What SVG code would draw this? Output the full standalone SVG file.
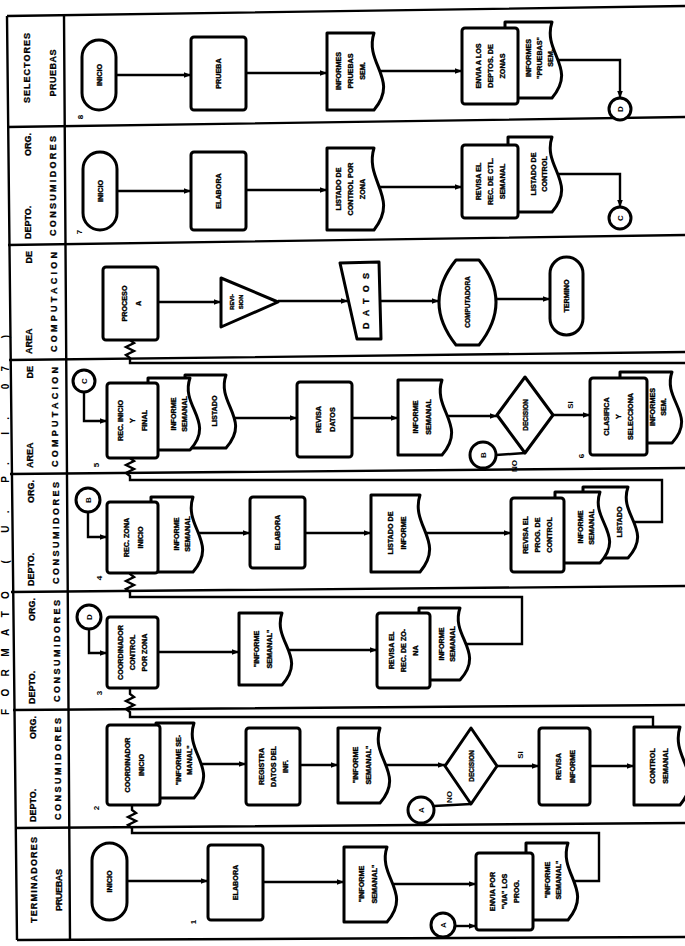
<svg xmlns="http://www.w3.org/2000/svg" width="685" height="946" viewBox="0 0 685 946">
<style>
.b{fill:#fff;stroke:#000;stroke-width:3;stroke-linejoin:round}
.l{fill:none;stroke:#000;stroke-width:2.4}
.g{fill:none;stroke:#000;stroke-width:2.4}
.t{font-family:"Liberation Sans",Arial,sans-serif;font-weight:bold;font-size:7.2px;text-anchor:middle;fill:#000;stroke:#000;stroke-width:0.35}
.h{font-family:"Liberation Sans",Arial,sans-serif;font-weight:bold;font-size:9px;fill:#000;stroke:#000;stroke-width:0.3}
.s{font-family:"Liberation Sans",Arial,sans-serif;font-weight:bold;font-size:8px;text-anchor:middle;fill:#000}
.ti{font-family:"Liberation Sans",Arial,sans-serif;font-weight:bold;font-size:10px;text-anchor:middle;fill:#000}
</style>
<defs>
<marker id="a" viewBox="0 0 10 10" refX="10" refY="5" markerWidth="7" markerHeight="7" orient="auto" markerUnits="userSpaceOnUse"><path d="M0,1 L10,5 L0,9 Z" fill="#000"/></marker>
</defs>
<rect width="685" height="946" fill="#fff"/>

<!-- frame -->
<g id="frame">
<path class="g" d="M7,16 L17,940 M64,15 L70,940"/>
<path class="g" d="M7,16 L685,6 M7,127 L685,117 M8,245 L685,235 M9,360 L685,352 M10,474 L685,468 M11,592 L685,586 M13,710 L685,705 M15,828 L685,823 M17,940 L685,937"/>
<text class="ti" transform="translate(9,525) rotate(-90)" textLength="380" lengthAdjust="spacing">FORMATO ( U. P. I. 07 )</text>
</g>

<!-- lane headers -->
<g id="hdr-8">
<text class="h" transform="translate(29.6,68) rotate(-90)" text-anchor="middle" textLength="70" lengthAdjust="spacing">SELECTORES</text>
<text class="h" transform="translate(55.5,73) rotate(-90)" text-anchor="middle" textLength="47" lengthAdjust="spacing">PRUEBAS</text>
</g>
<g id="hdr-7">
<text class="h" transform="translate(30.6,239) rotate(-90)">DEPTO.</text>
<text class="h" transform="translate(30.6,133) rotate(-90)" text-anchor="end">ORG.</text>
<text class="h" transform="translate(56.4,186) rotate(-90)" text-anchor="middle" textLength="100" lengthAdjust="spacing">CONSUMIDORES</text>
</g>
<g id="hdr-6">
<text class="h" transform="translate(31.6,354) rotate(-90)">AREA</text>
<text class="h" transform="translate(31.6,251) rotate(-90)" text-anchor="end">DE</text>
<text class="h" transform="translate(57.2,302) rotate(-90)" text-anchor="middle" textLength="100" lengthAdjust="spacing">COMPUTACION</text>
</g>
<g id="hdr-5">
<text class="h" transform="translate(32.5,468) rotate(-90)">AREA</text>
<text class="h" transform="translate(32.5,366) rotate(-90)" text-anchor="end">DE</text>
<text class="h" transform="translate(58.1,417) rotate(-90)" text-anchor="middle" textLength="100" lengthAdjust="spacing">COMPUTACION</text>
</g>
<g id="hdr-4">
<text class="h" transform="translate(33.5,586) rotate(-90)">DEPTO.</text>
<text class="h" transform="translate(33.5,480) rotate(-90)" text-anchor="end">ORG.</text>
<text class="h" transform="translate(59,533) rotate(-90)" text-anchor="middle" textLength="102" lengthAdjust="spacing">CONSUMIDORES</text>
</g>
<g id="hdr-3">
<text class="h" transform="translate(34.5,704) rotate(-90)">DEPTO.</text>
<text class="h" transform="translate(34.5,598) rotate(-90)" text-anchor="end">ORG.</text>
<text class="h" transform="translate(59.9,651) rotate(-90)" text-anchor="middle" textLength="102" lengthAdjust="spacing">CONSUMIDORES</text>
</g>
<g id="hdr-2">
<text class="h" transform="translate(35.5,822) rotate(-90)">DEPTO.</text>
<text class="h" transform="translate(35.5,716) rotate(-90)" text-anchor="end">ORG.</text>
<text class="h" transform="translate(60.7,769) rotate(-90)" text-anchor="middle" textLength="102" lengthAdjust="spacing">CONSUMIDORES</text>
</g>
<g id="hdr-1">
<text class="h" transform="translate(36.5,880) rotate(-90)" text-anchor="middle" textLength="86" lengthAdjust="spacing">TERMINADORES</text>
<text class="h" transform="translate(61.6,890) rotate(-90)" text-anchor="middle" textLength="42" lengthAdjust="spacing">PRUEBAS</text>
</g>

<!-- connectors -->
<g id="connectors">
<path class="l" marker-end="url(#a)" d="M116,75 H191"/>
<path class="l" marker-end="url(#a)" d="M246,73 H327"/>
<path class="l" marker-end="url(#a)" d="M379,71 H462"/>
<path class="l" marker-end="url(#a)" d="M557,60 H620 V98"/>

<path class="l" marker-end="url(#a)" d="M117,191 H191"/>
<path class="l" marker-end="url(#a)" d="M246,190 H327"/>
<path class="l" marker-end="url(#a)" d="M379,187 H462"/>
<path class="l" marker-end="url(#a)" d="M557,174 H620 V207"/>

<path class="l" marker-end="url(#a)" d="M158,302 H221"/>
<path class="l" marker-end="url(#a)" d="M278,301 H348"/>
<path class="l" marker-end="url(#a)" d="M380,301 H439"/>
<path class="l" marker-end="url(#a)" d="M496,299 H550"/>
<path class="l" d="M685,363 H130 V358 l-4,-3 l8,-4 l-8,-4 l8,-4 l-4,-3 V340"/>

<path class="l" marker-end="url(#a)" d="M84,392 V421 H107"/>
<path class="l" marker-end="url(#a)" d="M231,418 H297"/>
<path class="l" marker-end="url(#a)" d="M352,418 H398"/>
<path class="l" marker-end="url(#a)" d="M447,416 H497"/>
<path class="l" marker-end="url(#a)" d="M553,415 H590"/>
<path class="l" d="M496,455 L525,453"/>
<path class="l" d="M633,522 H662 V480 H130 V476 l-4,-3 l8,-4 l-8,-4 l8,-4 l-4,-3 V458"/>

<path class="l" marker-end="url(#a)" d="M88,512 V537 H107"/>
<path class="l" marker-end="url(#a)" d="M198,533 H250"/>
<path class="l" marker-end="url(#a)" d="M305,533 H371"/>
<path class="l" marker-end="url(#a)" d="M425,533 H511"/>
<path class="l" d="M465,644 H522 V597 H130 V592 l-4,-3 l8,-4 l-8,-4 l8,-4 l-4,-3 V573"/>

<path class="l" marker-end="url(#a)" d="M89,629 V653 H107"/>
<path class="l" marker-end="url(#a)" d="M158,652 H239"/>
<path class="l" marker-end="url(#a)" d="M287,650 H377"/>
<path class="l" d="M653,727 V717 H130 V712 l-4,-3 l8,-4 l-8,-4 l8,-4 l-4,-3 V688"/>

<path class="l" marker-end="url(#a)" d="M199,764 H246"/>
<path class="l" marker-end="url(#a)" d="M300,765 H338"/>
<path class="l" marker-end="url(#a)" d="M385,765 H445"/>
<path class="l" marker-end="url(#a)" d="M497,766 H539"/>
<path class="l" marker-end="url(#a)" d="M590,766 H634"/>
<path class="l" d="M434,806 L471,804"/>
<path class="l" d="M573,881 H599 V833 H132 V828 l-4,-3 l8,-4 l-8,-4 l8,-4 l-4,-3 V805"/>

<path class="l" marker-end="url(#a)" d="M127,881 H208"/>
<path class="l" marker-end="url(#a)" d="M263,882 H344"/>
<path class="l" marker-end="url(#a)" d="M392,884 H476"/>
<path class="l" marker-end="url(#a)" d="M455,926 H476"/>
</g>

<!-- lane 8 -->
<g id="n8-inicio"><rect class="b" x="82" y="40" width="34" height="70" rx="17"/>
<text class="t" transform="translate(99,75) rotate(-90)"><tspan x="0" y="2.5">INICIO</tspan></text></g>
<g id="n8-prueba"><rect class="b" x="191" y="37" width="55" height="73" rx="3"/>
<text class="t" transform="translate(218.5,73.5) rotate(-90)"><tspan x="0" y="2.5">PRUEBA</tspan></text></g>
<g id="n8-informes"><path class="b" d="M327,33 H374 C364,63.8 400,79.2 374,110 H327 Z"/>
<text class="t" transform="translate(350,71) rotate(-90)"><tspan x="0" y="-9.5">INFORMES</tspan><tspan x="0" y="2.5">PRUEBAS</tspan><tspan x="0" y="14.5">SEM.</tspan></text></g>
<g id="n8-informes2"><path class="b" d="M505,22 H552 C542,52.4 578,67.6 552,98 H505 Z"/>
<text class="t" transform="translate(539,58) rotate(-90)"><tspan x="0" y="-8.5">INFORMES</tspan><tspan x="0" y="2.5">"PRUEBAS"</tspan><tspan x="0" y="13.5">SEM.</tspan></text></g>
<g id="n8-envia"><rect class="b" x="462" y="28" width="56" height="76" rx="3"/>
<text class="t" transform="translate(490,66) rotate(-90)"><tspan x="0" y="-9.5">ENVIA A LOS</tspan><tspan x="0" y="2.5">DEPTOS. DE</tspan><tspan x="0" y="14.5">ZONAS</tspan></text></g>
<g id="n8-d"><circle class="b" cx="620" cy="109" r="11"/>
<text class="s" transform="translate(620,109) rotate(-90)"><tspan x="0" y="3">D</tspan></text></g>
<text class="s" transform="translate(80,117) rotate(-90)"><tspan x="0" y="3">8</tspan></text>

<!-- lane 7 -->
<g id="n7-inicio"><rect class="b" x="83" y="152" width="34" height="78" rx="17"/>
<text class="t" transform="translate(100,191) rotate(-90)"><tspan x="0" y="2.5">INICIO</tspan></text></g>
<g id="n7-elabora"><rect class="b" x="191" y="152" width="55" height="78" rx="3"/>
<text class="t" transform="translate(218.5,191) rotate(-90)"><tspan x="0" y="2.5">ELABORA</tspan></text></g>
<g id="n7-listado"><path class="b" d="M327,148 H374 C364,180.8 400,197.2 374,230 H327 Z"/>
<text class="t" transform="translate(350,189) rotate(-90)"><tspan x="0" y="-9.5">LISTADO DE</tspan><tspan x="0" y="2.5">CONTROL POR</tspan><tspan x="0" y="14.5">ZONA</tspan></text></g>
<g id="n7-listado2"><path class="b" d="M508,137 H552 C542,167 578,182 552,212 H508 Z"/>
<text class="t" transform="translate(539,174) rotate(-90)"><tspan x="0" y="-3">LISTADO DE</tspan><tspan x="0" y="8">CONTROL</tspan></text></g>
<g id="n7-revisa"><rect class="b" x="462" y="145" width="56" height="73" rx="3"/>
<text class="t" transform="translate(490,181.5) rotate(-90)"><tspan x="0" y="-9.5">REVISA EL</tspan><tspan x="0" y="2.5">REC. DE CTL.</tspan><tspan x="0" y="14.5">SEMANAL</tspan></text></g>
<g id="n7-c"><circle class="b" cx="620" cy="218" r="11"/>
<text class="s" transform="translate(620,218) rotate(-90)"><tspan x="0" y="3">C</tspan></text></g>
<text class="s" transform="translate(79,232) rotate(-90)"><tspan x="0" y="3">7</tspan></text>

<!-- lane 6 -->
<g id="n6-proceso"><rect class="b" x="103" y="267" width="55" height="73" rx="3"/>
<text class="t" transform="translate(130.5,303.5) rotate(-90)"><tspan x="0" y="-3.5">PROCESO</tspan><tspan x="0" y="10.5">A</tspan></text></g>
<g id="n6-revision"><path class="b" d="M221,278 L278,302 L221,327 Z"/>
<text class="t" transform="translate(236,302) rotate(-90)" style="font-size:6px"><tspan x="0" y="-2">REVI-</tspan><tspan x="0" y="7">SION</tspan></text></g>
<g id="n6-datos"><path class="b" d="M340,263 L379,262 L381,339 L357,339 Z"/>
<text class="h" transform="translate(369,301) rotate(-90)" text-anchor="middle" textLength="56" lengthAdjust="spacing">DATOS</text></g>
<g id="n6-computadora"><path class="b" d="M456,260 L479,260 Q513,302 479,345 L456,345 Q422,302 456,260 Z"/>
<text class="t" transform="translate(467.5,302) rotate(-90)" style="font-size:6.5px"><tspan x="0" y="2.5">COMPUTADORA</tspan></text></g>
<g id="n6-termino"><rect class="b" x="550" y="257" width="33" height="78" rx="16.5"/>
<text class="t" transform="translate(566.5,296) rotate(-90)"><tspan x="0" y="2.5">TERMINO</tspan></text></g>

<!-- lane 5 -->
<g id="n5-c"><circle class="b" cx="84" cy="381" r="11"/>
<text class="s" transform="translate(84,381) rotate(-90)"><tspan x="0" y="3">C</tspan></text></g>
<g id="n5-listado"><path class="b" d="M185,375 H226 C216,404.2 252,418.8 226,448 H185 Z"/>
<text class="t" transform="translate(214,411) rotate(-90)"><tspan x="0" y="2.5">LISTADO</tspan></text></g>
<g id="n5-informe"><path class="b" d="M148,378 H190 C180,406.8 216,421.2 190,450 H148 Z"/>
<text class="t" transform="translate(179,414) rotate(-90)"><tspan x="0" y="-3">INFORME</tspan><tspan x="0" y="8">SEMANAL</tspan></text></g>
<g id="n5-rec"><rect class="b" x="107" y="383" width="51" height="75" rx="3"/>
<text class="t" transform="translate(132.5,420.5) rotate(-90)"><tspan x="0" y="-9.5">REC. INICIO</tspan><tspan x="0" y="2.5">Y</tspan><tspan x="0" y="14.5">FINAL</tspan></text></g>
<g id="n5-revisa"><rect class="b" x="297" y="382" width="55" height="75" rx="3"/>
<text class="t" transform="translate(324.5,419.5) rotate(-90)"><tspan x="0" y="-3.5">REVISA</tspan><tspan x="0" y="10.5">DATOS</tspan></text></g>
<g id="n5-informe2"><path class="b" d="M398,380 H442 C432,410 468,425 442,455 H398 Z"/>
<text class="t" transform="translate(421,417) rotate(-90)"><tspan x="0" y="-3.5">INFORME</tspan><tspan x="0" y="9.5">SEMANAL</tspan></text></g>
<g id="n5-decision"><path class="b" d="M525,377 L553,415 L525,453 L497,415 Z"/>
<text class="t" transform="translate(525,415) rotate(-90)" style="font-size:6.5px"><tspan x="0" y="2.5">DECISION</tspan></text></g>
<text class="s" transform="translate(570,405) rotate(-90)"><tspan x="0" y="3">SI</tspan></text>
<g id="n5-informes"><path class="b" d="M620,372 H672 C662,400.4 698,414.6 672,443 H620 Z"/>
<text class="t" transform="translate(658,407) rotate(-90)"><tspan x="0" y="-3">INFORMES</tspan><tspan x="0" y="8">SEM.</tspan></text></g>
<g id="n5-clasifica"><rect class="b" x="590" y="378" width="57" height="77" rx="3"/>
<text class="t" transform="translate(618.5,416.5) rotate(-90)"><tspan x="0" y="-9.5">CLASIFICA</tspan><tspan x="0" y="2.5">Y</tspan><tspan x="0" y="14.5">SELECCIONA</tspan></text></g>
<g id="n5-b"><circle class="b" cx="483" cy="455" r="13"/>
<text class="s" transform="translate(483,455) rotate(-90)"><tspan x="0" y="3">B</tspan></text></g>
<text class="s" transform="translate(514,466) rotate(-90)"><tspan x="0" y="3">NO</tspan></text>
<text class="s" transform="translate(96,465) rotate(-90)"><tspan x="0" y="3">5</tspan></text>
<text class="s" transform="translate(581,456) rotate(-90)"><tspan x="0" y="3">6</tspan></text>

<!-- lane 4 -->
<g id="n4-b"><circle class="b" cx="88" cy="500" r="12"/>
<text class="s" transform="translate(88,500) rotate(-90)"><tspan x="0" y="3">B</tspan></text></g>
<g id="n4-informe"><path class="b" d="M151,497 H193 C183,527 219,542 193,572 H151 Z"/>
<text class="t" transform="translate(182,534) rotate(-90)"><tspan x="0" y="-3">INFORME</tspan><tspan x="0" y="8">SEMANAL</tspan></text></g>
<g id="n4-rec"><rect class="b" x="107" y="502" width="51" height="71" rx="3"/>
<text class="t" transform="translate(132.5,537.5) rotate(-90)"><tspan x="0" y="-3.5">REC. ZONA</tspan><tspan x="0" y="10.5">INICIO</tspan></text></g>
<g id="n4-elabora"><rect class="b" x="250" y="497" width="55" height="71" rx="3"/>
<text class="t" transform="translate(277.5,532.5) rotate(-90)"><tspan x="0" y="2.5">ELABORA</tspan></text></g>
<g id="n4-listado"><path class="b" d="M371,495 H420 C410,525.8 446,541.2 420,572 H371 Z"/>
<text class="t" transform="translate(396,533) rotate(-90)"><tspan x="0" y="-3.5">LISTADO DE</tspan><tspan x="0" y="9.5">INFORME</tspan></text></g>
<g id="n4-listado2"><path class="b" d="M583,487 H628 C618,515.4 654,529.6 628,558 H583 Z"/>
<text class="t" transform="translate(619,522) rotate(-90)"><tspan x="0" y="2.5">LISTADO</tspan></text></g>
<g id="n4-informe2"><path class="b" d="M555,492 H600 C590,520.4 626,534.6 600,563 H555 Z"/>
<text class="t" transform="translate(586,527) rotate(-90)"><tspan x="0" y="-3">INFORME</tspan><tspan x="0" y="8">SEMANAL</tspan></text></g>
<g id="n4-revisa"><rect class="b" x="511" y="498" width="53" height="74" rx="3"/>
<text class="t" transform="translate(537.5,535) rotate(-90)"><tspan x="0" y="-9.5">REVISA EL</tspan><tspan x="0" y="2.5">PROG. DE</tspan><tspan x="0" y="14.5">CONTROL</tspan></text></g>
<text class="s" transform="translate(99,578) rotate(-90)"><tspan x="0" y="3">4</tspan></text>

<!-- lane 3 -->
<g id="n3-d"><circle class="b" cx="89" cy="617" r="12"/>
<text class="s" transform="translate(89,617) rotate(-90)"><tspan x="0" y="3">D</tspan></text></g>
<g id="n3-coordinador"><rect class="b" x="107" y="617" width="51" height="71" rx="3"/>
<text class="t" transform="translate(132.5,652.5) rotate(-90)"><tspan x="0" y="-9.5">COORDINADOR</tspan><tspan x="0" y="2.5">CONTROL</tspan><tspan x="0" y="14.5">POR ZONA</tspan></text></g>
<g id="n3-informe"><path class="b" d="M239,613 H282 C272,641.8 308,656.2 282,685 H239 Z"/>
<text class="t" transform="translate(262,649) rotate(-90)"><tspan x="0" y="-3.5">"INFORME</tspan><tspan x="0" y="9.5">SEMANAL"</tspan></text></g>
<g id="n3-informe2"><path class="b" d="M419,608 H460 C450,636.8 486,651.2 460,680 H419 Z"/>
<text class="t" transform="translate(447,644) rotate(-90)"><tspan x="0" y="-3">INFORME</tspan><tspan x="0" y="8">SEMANAL</tspan></text></g>
<g id="n3-revisa"><rect class="b" x="377" y="613" width="53" height="75" rx="3"/>
<text class="t" transform="translate(403.5,650.5) rotate(-90)"><tspan x="0" y="-9.5">REVISA EL</tspan><tspan x="0" y="2.5">REC. DE ZO-</tspan><tspan x="0" y="14.5">NA</tspan></text></g>
<text class="s" transform="translate(99,693) rotate(-90)"><tspan x="0" y="3">3</tspan></text>

<!-- lane 2 -->
<g id="n2-informe"><path class="b" d="M156,723 H194 C184,753 220,768 194,798 H156 Z"/>
<text class="t" transform="translate(184,760) rotate(-90)"><tspan x="0" y="-3">"INFORME SE-</tspan><tspan x="0" y="8">MANAL"</tspan></text></g>
<g id="n2-coordinador"><rect class="b" x="107" y="725" width="53" height="80" rx="3"/>
<text class="t" transform="translate(133.5,765) rotate(-90)"><tspan x="0" y="-3.5">COORDINADOR</tspan><tspan x="0" y="10.5">INICIO</tspan></text></g>
<g id="n2-registra"><rect class="b" x="246" y="728" width="54" height="77" rx="3"/>
<text class="t" transform="translate(273,766.5) rotate(-90)"><tspan x="0" y="-9.5">REGISTRA</tspan><tspan x="0" y="2.5">DATOS DEL</tspan><tspan x="0" y="14.5">INF.</tspan></text></g>
<g id="n2-informe2"><path class="b" d="M338,728 H380 C370,758 406,773 380,803 H338 Z"/>
<text class="t" transform="translate(361,765) rotate(-90)"><tspan x="0" y="-3.5">"INFORME</tspan><tspan x="0" y="9.5">SEMANAL"</tspan></text></g>
<g id="n2-decision"><path class="b" d="M471,728 L497,766 L471,804 L445,766 Z"/>
<text class="t" transform="translate(471,766) rotate(-90)" style="font-size:6.5px"><tspan x="0" y="2.5">DECISION</tspan></text></g>
<text class="s" transform="translate(520,755) rotate(-90)"><tspan x="0" y="3">SI</tspan></text>
<g id="n2-revisa"><rect class="b" x="539" y="728" width="51" height="77" rx="3"/>
<text class="t" transform="translate(564.5,766.5) rotate(-90)"><tspan x="0" y="-3.5">REVISA</tspan><tspan x="0" y="10.5">INFORME</tspan></text></g>
<g id="n2-control"><path class="b" d="M634,727 H680 C670,758.2 706,773.8 680,805 H634 Z"/>
<text class="t" transform="translate(658,766) rotate(-90)"><tspan x="0" y="-3.5">CONTROL</tspan><tspan x="0" y="9.5">SEMANAL</tspan></text></g>
<g id="n2-a"><circle class="b" cx="421" cy="810" r="13"/>
<text class="s" transform="translate(421,810) rotate(-90)"><tspan x="0" y="3">A</tspan></text></g>
<text class="s" transform="translate(449,797) rotate(-90)"><tspan x="0" y="3">NO</tspan></text>
<text class="s" transform="translate(96,808) rotate(-90)"><tspan x="0" y="3">2</tspan></text>

<!-- lane 1 -->
<g id="n1-inicio"><rect class="b" x="92" y="843" width="35" height="77" rx="17.5"/>
<text class="t" transform="translate(109.5,881.5) rotate(-90)"><tspan x="0" y="2.5">INICIO</tspan></text></g>
<g id="n1-elabora"><rect class="b" x="208" y="845" width="55" height="75" rx="3"/>
<text class="t" transform="translate(235.5,882.5) rotate(-90)"><tspan x="0" y="2.5">ELABORA</tspan></text></g>
<g id="n1-informe"><path class="b" d="M344,847 H387 C377,877 413,892 387,922 H344 Z"/>
<text class="t" transform="translate(367,884) rotate(-90)"><tspan x="0" y="-3.5">"INFORME</tspan><tspan x="0" y="9.5">SEMANAL"</tspan></text></g>
<g id="n1-informe2"><path class="b" d="M526,843 H568 C558,873.8 594,889.2 568,920 H526 Z"/>
<text class="t" transform="translate(553,880) rotate(-90)"><tspan x="0" y="-3">"INFORME</tspan><tspan x="0" y="8">SEMANAL"</tspan></text></g>
<g id="n1-envia"><rect class="b" x="476" y="853" width="57" height="77" rx="3"/>
<text class="t" transform="translate(504.5,891.5) rotate(-90)"><tspan x="0" y="-9.5">ENVIA POR</tspan><tspan x="0" y="2.5">"VIA" LOS</tspan><tspan x="0" y="14.5">PROG.</tspan></text></g>
<g id="n1-a"><circle class="b" cx="443" cy="925" r="12"/>
<text class="s" transform="translate(443,925) rotate(-90)"><tspan x="0" y="3">A</tspan></text></g>
<text class="s" transform="translate(193,922) rotate(-90)"><tspan x="0" y="3">1</tspan></text>
</svg>
